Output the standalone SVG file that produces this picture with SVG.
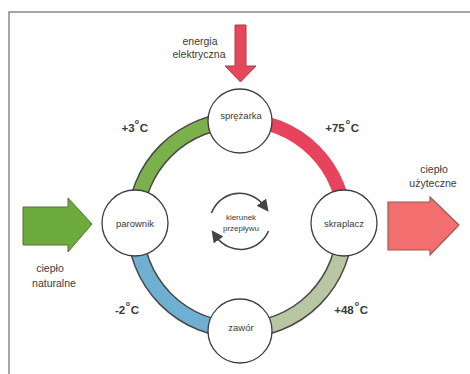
<svg xmlns="http://www.w3.org/2000/svg" width="470" height="374" viewBox="0 0 470 374">
<defs>
<style>
text{font-family:"Liberation Sans",Arial,sans-serif;fill:#3a3a3a;text-anchor:middle}
.lbl{font-size:10.5px}
.node{font-size:9.5px}
.tmp{font-size:11.5px;font-weight:bold}
.sup{font-size:7px;font-weight:bold}
.small{font-size:8px}
.ring-out{fill:none;stroke:#4a4a4a;stroke-width:17}
.ring{fill:none;stroke-width:14}
.nc{fill:#fff;stroke:#3f3f3f;stroke-width:1.3}
.flow{fill:none;stroke:#444;stroke-width:1.6}
</style>
<marker id="ah" viewBox="0 0 10 10" refX="3" refY="5" markerWidth="7.5" markerHeight="7.5" orient="auto" markerUnits="strokeWidth">
<path d="M0,0 L10,5 L0,10 z" fill="#444"/>
</marker>
</defs>
<rect width="470" height="374" fill="#fff"/>
<g id="frame" stroke="#8a8a8a" stroke-width="1.5" fill="none">
<path d="M9,374 L9,12 L470,12"/>
</g>
<g id="connectors">
<path class="ring-out" d="M135,224 A105,105 0 0 1 240,120"/>
<path class="ring-out" d="M345,224 A105,105 0 0 1 240,330"/>
<path class="ring-out" d="M240,330 A105,105 0 0 1 135,224"/>
<path class="ring" stroke="#7bb04b" d="M135,224 A105,105 0 0 1 240,120"/>
<path class="ring" stroke="#e8435d" stroke-width="16" d="M240,120 A105,105 0 0 1 345,224"/>
<path class="ring" stroke="#b9c6a3" d="M345,224 A105,105 0 0 1 240,330"/>
<path class="ring" stroke="#6fb0d2" d="M240,330 A105,105 0 0 1 135,224"/>
</g>
<g id="energia">
<path d="M235,25 L246,25 L246,66 L256,66 L240.5,82 L225,66 L235,66 Z" fill="#e4485a" stroke="#b03a48" stroke-width="1"/>
<text class="lbl" x="200" y="45">energia</text>
<text class="lbl" x="199" y="58">elektryczna</text>
</g>
<g id="ciepło-naturalne">
<path d="M23,207 L68,207 L68,198 L92,224 L68,252 L68,245 L23,245 Z" fill="#6eab3e" stroke="#55702f" stroke-width="1"/>
<text class="lbl" x="50" y="272">ciepło</text>
<text class="lbl" x="54" y="287">naturalne</text>
</g>
<g id="ciepło-użyteczne">
<path d="M388,202 L430,202 L430,197 L459,225 L430,255 L430,250 L388,250 Z" fill="#f36f6f" stroke="#9a5a52" stroke-width="1.2"/>
<text class="lbl" x="434" y="173">ciepło</text>
<text class="lbl" x="433" y="187">użyteczne</text>
</g>
<g id="sprężarka">
<circle class="nc" cx="240" cy="121" r="32"/>
<text class="node" x="241" y="119">sprężarka</text>
</g>
<g id="parownik">
<circle class="nc" cx="135" cy="223" r="33"/>
<text class="node" x="135" y="227">parownik</text>
</g>
<g id="skraplacz">
<circle class="nc" cx="344" cy="223" r="33"/>
<text class="node" x="344" y="227">skraplacz</text>
</g>
<g id="zawór">
<circle class="nc" cx="240" cy="331" r="32"/>
<text class="node" x="241" y="331">zawór</text>
</g>
<g id="temps">
<text class="tmp" x="128" y="132">+3</text><text class="sup" x="137" y="124">o</text><text class="tmp" x="144" y="132">C</text>
<text class="tmp" x="335" y="132">+75</text><text class="sup" x="348" y="124">o</text><text class="tmp" x="355" y="132">C</text>
<text class="tmp" x="120" y="314">-2</text><text class="sup" x="128" y="306">o</text><text class="tmp" x="135" y="314">C</text>
<text class="tmp" x="344" y="314">+48</text><text class="sup" x="357" y="306">o</text><text class="tmp" x="364" y="314">C</text>
</g>
<g id="kierunek">
<path class="flow" marker-end="url(#ah)" d="M211.5,213 A30,30 0 0 1 263.5,205"/>
<path class="flow" marker-end="url(#ah)" d="M268.5,231 A30,30 0 0 1 216.5,237"/>
<text class="small" x="241" y="220">kierunek</text>
<text class="small" x="241" y="231">przepływu</text>
</g>
</svg>
